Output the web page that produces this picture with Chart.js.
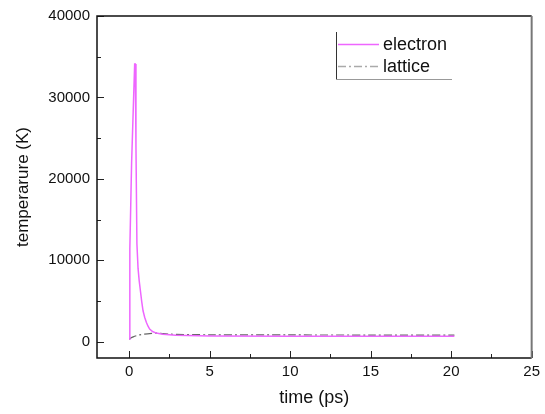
<!DOCTYPE html>
<html>
<head>
<meta charset="utf-8">
<script src="https://cdn.jsdelivr.net/npm/chart.js@4"></script>
<style>
html,body{margin:0;padding:0;background:#fff;}
#wrap{width:545px;height:414px;position:relative;}
</style>
</head>
<body>
<div id="wrap"><canvas id="c" width="545" height="414"></canvas></div>
<script>
// Data
const electronTime = [0, 0.04, 0.15, 0.25, 0.34, 0.38, 0.42, 0.48, 0.55, 0.62, 0.7, 0.78, 0.86, 0.96, 1.07, 1.17, 1.27, 1.45, 1.68, 2.09, 2.9, 5, 10, 15, 20.2];
const electronTemp = [300, 11400, 22000, 28400, 34100, 34100, 24000, 12000, 9000, 7500, 6200, 4900, 3800, 3000, 2350, 1900, 1550, 1250, 1060, 920, 780, 700, 680, 670, 660];
const latticeTime = [0, 0.1, 0.25, 0.45, 0.66, 0.95, 1.27, 1.68, 2.5, 5, 10, 15, 20.2];
const latticeTemp = [300, 450, 600, 740, 850, 930, 1000, 1050, 930, 850, 830, 820, 820];
const xTicks = [0, 5, 10, 15, 20, 25];
const yTicks = [0, 10000, 20000, 30000, 40000];
const xMinor = [2.5, 7.5, 12.5, 17.5, 22.5];
const yMinor = [5000, 15000, 25000, 35000];
const seriesNames = ['electron', 'lattice'];
const xTitle = 'time (ps)';
const yTitle = 'temperarure (K)';

const FONT = "'Liberation Sans', Arial, sans-serif";

const framePlugin = {
  id: 'frame',
  afterDraw(chart) {
    const {ctx, chartArea: a, scales: {x, y}} = chart;
    ctx.save();
    // ticks inward
    ctx.strokeStyle = '#222';
    ctx.lineWidth = 1;
    xTicks.forEach(v => { const px = Math.round(x.getPixelForValue(v)) + 0.5; ctx.beginPath(); ctx.moveTo(px, a.bottom); ctx.lineTo(px, a.bottom - 7); ctx.stroke(); });
    xMinor.forEach(v => { const px = Math.round(x.getPixelForValue(v)) + 0.5; ctx.beginPath(); ctx.moveTo(px, a.bottom); ctx.lineTo(px, a.bottom - 4); ctx.stroke(); });
    yTicks.forEach(v => { const py = Math.round(y.getPixelForValue(v)) + 0.5; ctx.beginPath(); ctx.moveTo(a.left, py); ctx.lineTo(a.left + 7, py); ctx.stroke(); });
    yMinor.forEach(v => { const py = Math.round(y.getPixelForValue(v)) + 0.5; ctx.beginPath(); ctx.moveTo(a.left, py); ctx.lineTo(a.left + 4, py); ctx.stroke(); });
    // frame
    ctx.lineWidth = 1.5;
    ctx.strokeStyle = '#111';
    ctx.beginPath();
    ctx.moveTo(a.right, a.top); ctx.lineTo(a.left, a.top); ctx.lineTo(a.left, a.bottom); ctx.lineTo(a.right, a.bottom);
    ctx.stroke();
    ctx.strokeStyle = '#777';
    ctx.lineWidth = 2;
    ctx.beginPath(); ctx.moveTo(a.right, a.top); ctx.lineTo(a.right, a.bottom); ctx.stroke();

    // legend
    const lx = 336, ly1 = 44.5, ly2 = 66.5;
    ctx.strokeStyle = '#333'; ctx.lineWidth = 1;
    ctx.beginPath(); ctx.moveTo(lx + 0.5, 32); ctx.lineTo(lx + 0.5, 79.5); ctx.stroke();
    ctx.strokeStyle = '#999';
    ctx.beginPath(); ctx.moveTo(lx, 79.5); ctx.lineTo(452, 79.5); ctx.stroke();
    const ds = chart.data.datasets;
    ctx.lineWidth = 1.5;
    ctx.strokeStyle = ds[0].borderColor; ctx.setLineDash([]);
    ctx.beginPath(); ctx.moveTo(338, ly1); ctx.lineTo(379, ly1); ctx.stroke();
    ctx.strokeStyle = '#aaa'; ctx.setLineDash(ds[1].borderDash);
    ctx.beginPath(); ctx.moveTo(338, ly2); ctx.lineTo(379, ly2); ctx.stroke();
    ctx.setLineDash([]);
    ctx.fillStyle = '#111';
    ctx.font = '18px ' + FONT;
    ctx.textBaseline = 'middle'; ctx.textAlign = 'left';
    ctx.fillText(seriesNames[0], 383, ly1 + 1);
    ctx.fillText(seriesNames[1], 383, ly2 + 1);
    ctx.restore();
  }
};

new Chart(document.getElementById('c'), {
  type: 'scatter',
  data: {
    datasets: [
      {
        label: seriesNames[0],
        data: electronTime.map((t, i) => ({x: t, y: electronTemp[i]})),
        showLine: true, borderColor: '#ee66ff', borderWidth: 1.5,
        pointRadius: 0, tension: 0, fill: false
      },
      {
        label: seriesNames[1],
        data: latticeTime.map((t, i) => ({x: t, y: latticeTemp[i]})),
        showLine: true, borderColor: '#666', borderWidth: 1.2, borderDash: [8, 3, 2, 3],
        pointRadius: 0, tension: 0.3, fill: false
      }
    ]
  },
  options: {
    responsive: false, animation: false,
    layout: {padding: {top: 11, right: 11, left: 0, bottom: 0}},
    plugins: {legend: {display: false}, tooltip: {enabled: false}},
    scales: {
      x: {
        type: 'linear', min: -2, max: 25,
        afterBuildTicks: s => { s.ticks = xTicks.map(v => ({value: v})); },
        afterFit: s => { s.height = 56; },
        grid: {display: true, drawOnChartArea: false, drawTicks: false},
        border: {display: false},
        ticks: {color: '#111', font: {family: FONT, size: 15}, padding: 5, maxRotation: 0},
        title: {display: true, text: xTitle, color: '#111', font: {family: FONT, size: 18}, padding: {top: 0, bottom: 5}}
      },
      y: {
        type: 'linear', min: -2000, max: 40000,
        afterBuildTicks: s => { s.ticks = yTicks.map(v => ({value: v})); },
        afterFit: s => { s.width = 97; },
        grid: {display: true, drawOnChartArea: false, drawTicks: false},
        border: {display: false},
        ticks: {color: '#111', font: {family: FONT, size: 15}, padding: 7, callback: v => String(v)},
        title: {display: true, text: yTitle, color: '#111', font: {family: FONT, size: 17}, padding: {top: 13, bottom: 0}}
      }
    }
  },
  plugins: [framePlugin]
});
</script>
</body>
</html>
